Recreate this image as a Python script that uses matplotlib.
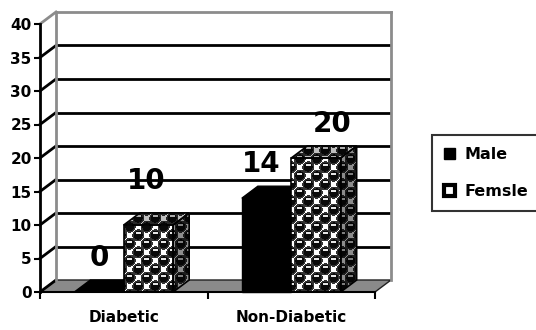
import matplotlib
matplotlib.use("Agg")
import matplotlib.pyplot as plt
import numpy as np
from matplotlib.patches import Polygon, Patch

categories = ["Diabetic", "Non-Diabetic"]
series_names = ["Male", "Femsle"]
male = [0, 14]
female = [10, 20]
y_ticks = [0, 5, 10, 15, 20, 25, 30, 35, 40]

# label nudges in pixels (x, up) relative to the default spot above each bar
label_nudge = {"Male": [(0, 0), (-5, 0)], "Femsle": [(-2, 10), (16, 0)]}

plt.rcParams['font.family'] = ['DejaVu Sans']
plt.rcParams['font.weight'] = 'bold'

W, H = 536, 330
fig = plt.figure(figsize=(W / 100, H / 100), dpi=100)
ax = fig.add_axes([40 / W, 38 / H, 335 / W, 268 / H])
ax.set_facecolor('white')

ymax = 40
px_x = 335 / len(categories)   # pixels per category unit
px_y = 268 / ymax              # pixels per value unit
dx = 16 / px_x                 # depth offset of the 3d box
dy = 12 / px_y
bar_w = 0.295


def ball_texture(w, h, cell=8.5, shade=1.0):
    yy, xx = np.mgrid[0:h, 0:w].astype(float)
    ci = xx // cell
    cj = yy // cell
    best = np.full((h, w), 1e9)
    bcx = np.zeros((h, w))
    bcy = np.zeros((h, w))
    # nearest ball centre on the checker lattice
    for oi in (-1, 0, 1):
        for oj in (-1, 0, 1):
            ii = ci + oi
            jj = cj + oj
            ok = ((ii + jj) % 2 == 0)
            cx = xx - (ii + 0.5) * cell
            cy = yy - (jj + 0.5) * cell
            d = np.where(ok, np.hypot(cx, cy), 1e9)
            m = d < best
            best = np.where(m, d, best)
            bcx = np.where(m, cx, bcx)
            bcy = np.where(m, cy, bcy)
    img = np.ones((h, w))
    inside = best < cell * 0.7
    img[inside] = 0.04
    ring = inside & (best > cell * 0.52)
    img[ring] = 0.2
    hl = inside & (bcy < -0.8) & (bcy > -3.0) & (np.abs(bcx) < 2.4)
    img[hl] = 0.9
    img = img * shade
    return np.dstack([img] * 3)


tex_extent = (-0.1, 2.3, -2, 46)
tw = int((tex_extent[1] - tex_extent[0]) * px_x)
th = int((tex_extent[3] - tex_extent[2]) * px_y)
front_tex = ball_texture(tw, th)
side_tex = ball_texture(tw, th, shade=0.55)
top_tex = ball_texture(tw, th, shade=0.75)


def face(pts, z, color=None, tex=None):
    if tex is None:
        ax.add_patch(Polygon(pts, closed=True, facecolor=color, edgecolor='black',
                             lw=1.0, zorder=z, clip_on=False))
        return
    poly = Polygon(pts, closed=True, facecolor='none', edgecolor='black',
                   lw=1.2, zorder=z + 0.1, clip_on=False)
    ax.add_patch(poly)
    im = ax.imshow(tex, extent=tex_extent, origin='upper', aspect='auto',
                   interpolation='nearest', zorder=z)
    im.set_clip_path(poly)


def bar3d(x0, v, z, color=None, textured=False):
    x1 = x0 + bar_w
    front = [(x0, 0), (x1, 0), (x1, v), (x0, v)]
    side = [(x1, 0), (x1 + dx, dy), (x1 + dx, v + dy), (x1, v)]
    top = [(x0, v), (x1, v), (x1 + dx, v + dy), (x0 + dx, v + dy)]
    if textured:
        face(side, z, tex=side_tex)
        face(top, z, tex=top_tex)
        if v > 0:
            face(front, z, tex=front_tex)
    else:
        face(side, z, color)
        face(top, z, color)
        if v > 0:
            face(front, z, color)


# floor
nx = len(categories)
ax.add_patch(Polygon([(0, 0), (nx, 0), (nx + dx, dy), (dx, dy)], closed=True,
                     facecolor='#8a8a8a', edgecolor='#202020', lw=1.0,
                     zorder=1, clip_on=False))

# back wall gridlines and side-wall ticks
for v in y_ticks[1:-1]:
    ax.plot([dx, nx + dx], [v + dy, v + dy], color='black', lw=2, zorder=1,
            clip_on=False, solid_capstyle='butt')
for v in y_ticks[:-1]:
    ax.plot([0, dx], [v, v + dy], color='black', lw=2, zorder=1, clip_on=False)

wall_gray = '#8c8c8c'
ax.plot([dx, dx], [dy, ymax + dy], color=wall_gray, lw=2, zorder=1, clip_on=False)
ax.plot([nx + dx, nx + dx], [dy, ymax + dy], color=wall_gray, lw=2, zorder=1, clip_on=False)
ax.plot([dx, nx + dx], [ymax + dy, ymax + dy], color=wall_gray, lw=2, zorder=1, clip_on=False)
ax.plot([0, dx], [ymax, ymax + dy], color=wall_gray, lw=2, zorder=1, clip_on=False)

# bars, drawn left to right so each female box hides the male side
z = 3
for i, cat in enumerate(categories):
    c = i + 0.5
    bar3d(c - bar_w, male[i], z, color='black')
    z += 1
    bar3d(c, female[i], z, textured=True)
    z += 1

# value labels
for name, vals, offs in [("Male", male, -bar_w), ("Femsle", female, 0.0)]:
    for i, v in enumerate(vals):
        nx_px, up_px = label_nudge[name][i]
        xl = i + 0.5 + offs + bar_w / 2 + nx_px / px_x
        yl = v + dy + (22 + up_px) / px_y
        ax.text(xl, yl, str(v), ha='center', va='center', fontsize=20,
                fontweight='bold', color='black', zorder=20, clip_on=False)

ax.set_xlim(0, nx)
ax.set_ylim(0, ymax)

for side in ['top', 'right']:
    ax.spines[side].set_visible(False)
ax.spines['left'].set_linewidth(2)
ax.spines['bottom'].set_linewidth(1.5)
ax.spines['left'].set_zorder(10)
ax.spines['bottom'].set_zorder(10)

ax.set_yticks(y_ticks)
ax.set_yticklabels([str(t) for t in y_ticks])
ax.tick_params(axis='y', direction='out', length=4, width=1.5, pad=2,
               labelsize=11)

ax.set_xticks([i + 0.5 for i in range(nx)])
ax.set_xticklabels(categories)
ax.set_xticks(list(range(nx + 1)), minor=True)
ax.tick_params(axis='x', which='major', length=0, pad=13, labelsize=11)
ax.tick_params(axis='x', which='minor', direction='out', length=5, width=1.5)
for lab in ax.get_xticklabels() + ax.get_yticklabels():
    lab.set_fontweight('bold')

handles = [Patch(facecolor='black', edgecolor='black'),
           Patch(facecolor='white', edgecolor='black', lw=3)]
leg = fig.legend(handles, series_names, loc='upper left',
                 bbox_to_anchor=(432 / W, 1 - 135 / H), frameon=True,
                 fancybox=False, borderaxespad=0, borderpad=0.75,
                 labelspacing=1.4, handlelength=0.7, handleheight=0.7,
                 handletextpad=0.6, prop={'size': 11.5, 'weight': 'bold'})
leg.get_frame().set_edgecolor('black')
leg.get_frame().set_linewidth(1.5)

fig.savefig('out.png', dpi=100, facecolor='white')
